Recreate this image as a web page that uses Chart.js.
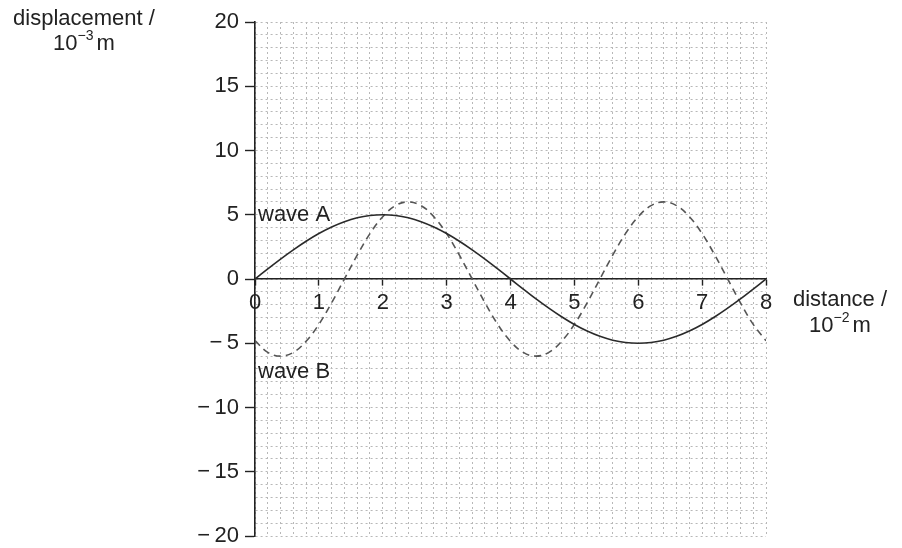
<!DOCTYPE html>
<html>
<head>
<meta charset="utf-8">
<script src="https://cdn.jsdelivr.net/npm/chart.js@4.4.1/dist/chart.umd.min.js"></script>
<style>
  html, body { margin:0; padding:0; background:#fff; }
</style>
</head>
<body>
<canvas id="myChart" width="902" height="548"></canvas>
<script>
// distance / 10^-2 m (read every 0.2)
const distancias = [0,0.2,0.4,0.6,0.8,1,1.2,1.4,1.6,1.8,2,2.2,2.4,2.6,2.8,3,3.2,3.4,3.6,3.8,4,
                    4.2,4.4,4.6,4.8,5,5.2,5.4,5.6,5.8,6,6.2,6.4,6.6,6.8,7,7.2,7.4,7.6,7.8,8]
// displacement / 10^-3 m
const ondaA = [0,0.78,1.55,2.27,2.94,3.54,4.05,4.46,4.76,4.94,5.0,4.94,4.76,4.46,4.05,3.54,2.94,2.27,1.55,0.78,0,
               -0.78,-1.55,-2.27,-2.94,-3.54,-4.05,-4.46,-4.76,-4.94,-5.0,-4.94,-4.76,-4.46,-4.05,-3.54,-2.94,-2.27,-1.55,-0.78,0]
const ondaB = [-4.8,-5.71,-6,-5.71,-4.85,-3.53,-1.85,0,1.85,3.53,4.85,5.71,6,5.71,4.85,3.53,1.85,0,-1.85,-3.53,-4.85,
               -5.71,-6,-5.71,-4.85,-3.53,-1.85,0,1.85,3.53,4.85,5.71,6,5.71,4.85,3.53,1.85,0,-1.85,-3.53,-4.8]
const ticksX = [0,1,2,3,4,5,6,7,8]
const ticksY = [-20,-15,-10,-5,0,5,10,15,20]

const fuente = '"Liberation Sans", Arial, sans-serif'
const tinta = '#222'
const tam = 22

function esMarca(lista, v) {
    return lista.some(t => Math.abs(t - v) < 1e-6)
}

// texto con exponente: base, exp, unidad, centrado en cx
function textoPotencia(ctx, base, exp, unidad, cx, cy) {
    ctx.font = tam + 'px ' + fuente
    const wb = ctx.measureText(base).width
    const wu = ctx.measureText(unidad).width
    ctx.font = '14px ' + fuente
    const we = ctx.measureText(exp).width
    let x = cx - (wb + we + 3 + wu) / 2
    ctx.textAlign = 'left'
    ctx.font = tam + 'px ' + fuente
    ctx.fillText(base, x, cy)
    x += wb
    ctx.font = '14px ' + fuente
    ctx.fillText(exp, x, cy - 8)
    x += we + 3
    ctx.font = tam + 'px ' + fuente
    ctx.fillText(unidad, x, cy)
}

const textos = {
    id: 'textos',
    afterDraw(chart) {
        const ctx = chart.ctx
        const x = chart.scales.x
        const y = chart.scales.y
        ctx.save()
        ctx.fillStyle = tinta
        ctx.textBaseline = 'middle'
        ctx.textAlign = 'center'
        ctx.font = tam + 'px ' + fuente
        ctx.fillText('displacement /', 84, 19)
        textoPotencia(ctx, '10', '\u22123', 'm', 84, 44)
        ctx.textAlign = 'center'
        ctx.font = tam + 'px ' + fuente
        ctx.fillText('distance /', 840, 300)
        textoPotencia(ctx, '10', '\u22122', 'm', 840, 326)
        ctx.textAlign = 'left'
        ctx.font = tam + 'px ' + fuente
        ctx.fillText('wave A', x.getPixelForValue(0) + 3, y.getPixelForValue(5))
        ctx.fillText('wave B', x.getPixelForValue(0) + 3, y.getPixelForValue(-7.2))
        ctx.restore()
    }
}

const ctx = document.getElementById('myChart')
var myChart = new Chart(ctx, {
    type: 'line',
    data: {
        datasets: [
            {
                label: 'wave A',
                data: distancias.map((d, i) => ({x: d, y: ondaA[i]})),
                borderColor: '#2a2a2a',
                borderWidth: 1.6,
                pointRadius: 0,
                fill: false,
                tension: 0.4
            },
            {
                label: 'wave B',
                data: distancias.map((d, i) => ({x: d, y: ondaB[i]})),
                borderColor: '#555',
                borderWidth: 1.6,
                borderDash: [7, 5],
                pointRadius: 0,
                fill: false,
                tension: 0.4
            }
        ]
    },
    options: {
        responsive: false,
        devicePixelRatio: 1,
        animation: false,
        layout: { padding: { left: 0, right: 136, top: 22, bottom: 12 } },
        plugins: { legend: { display: false }, tooltip: { enabled: false } },
        scales: {
            x: {
                type: 'linear',
                position: { y: 0 },
                min: 0,
                max: 8,
                ticks: {
                    stepSize: 0.2,
                    autoSkip: false,
                    maxRotation: 0,
                    padding: 5,
                    color: tinta,
                    font: { size: tam, family: fuente },
                    callback: v => esMarca(ticksX, v) ? String(Math.round(v)) : ''
                },
                grid: {
                    color: '#b8b8b8',
                    lineWidth: 1,
                    tickLength: 6,
                    tickBorderDash: [],
                    tickWidth: 1.4,
                    tickColor: c => esMarca(ticksX, c.tick.value) ? tinta : 'rgba(0,0,0,0)'
                },
                border: { display: true, color: tinta, width: 1.6, dash: [2, 3] }
            },
            y: {
                type: 'linear',
                position: 'left',
                min: -20,
                max: 20,
                afterFit: s => { s.width = 255; s.paddingTop = 0; s.paddingBottom = 0 },
                ticks: {
                    stepSize: 1,
                    autoSkip: false,
                    padding: 6,
                    color: tinta,
                    font: { size: tam, family: fuente },
                    callback: v => esMarca(ticksY, v) ? (v < 0 ? '\u2212\u2009' + Math.abs(v) : String(v)) : ''
                },
                grid: {
                    color: '#b8b8b8',
                    lineWidth: 1,
                    tickLength: 10,
                    tickBorderDash: [],
                    tickWidth: 1.4,
                    tickColor: c => esMarca(ticksY, c.tick.value) ? tinta : 'rgba(0,0,0,0)'
                },
                border: { display: true, color: tinta, width: 1.6, dash: [2, 3] }
            }
        }
    },
    plugins: [textos]
})
</script>
</body>
</html>
